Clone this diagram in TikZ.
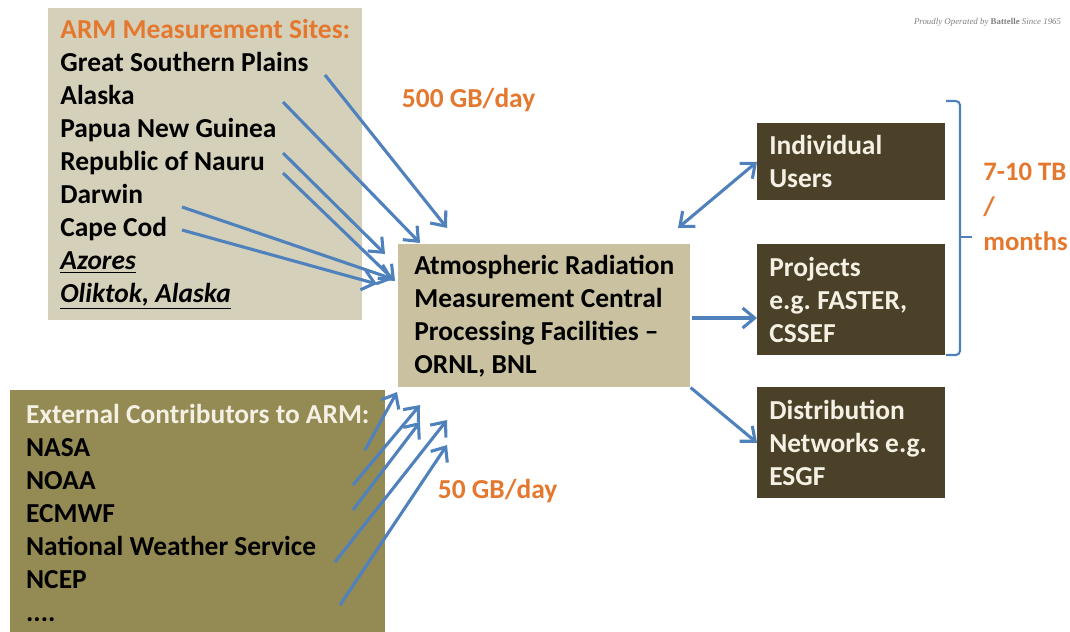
\documentclass[tikz,border=0pt]{standalone}
\usepackage{fontspec}
\setmainfont{Carlito}
\newfontfamily\logofont{Liberation Serif}
\usetikzlibrary{arrows.meta}

\definecolor{sitetan}{HTML}{D5D0BA}
\definecolor{centertan}{HTML}{C9C19F}
\definecolor{olivebox}{HTML}{948A54}
\definecolor{darkbox}{HTML}{4A4128}
\definecolor{armorange}{HTML}{E4782F}
\definecolor{armblue}{HTML}{4F81BD}
\definecolor{cream}{HTML}{F4F1E4}

\begin{document}
\begin{tikzpicture}[x=0.025cm,y=-0.025cm,
		every node/.style={font=\fontsize{19.5}{23.5}\selectfont\bfseries\frenchspacing},
		box/.style={anchor=north west, inner sep=0pt, align=left},
		userbox/.style={box, align=flush left, fill=darkbox, text=cream, inner xsep=0.3cm, text width=4.1cm, minimum width=4.7cm},
		flow/.style={draw=armblue, line width=2.2pt, -{Straight Barb[length=3mm,width=5mm,line width=2.2pt]}},
		rate/.style={anchor=west, text=armorange, align=left}]
		\useasboundingbox (0,0) rectangle (1070,631);
		% boxes
		\node [box, fill=sitetan, minimum width=7.85cm, minimum height=7.8cm] (1) at (48,8)
			{\textcolor{armorange}{ARM Measurement Sites:}\\Great Southern Plains\\Alaska\\Papua New Guinea\\Republic of Nauru\\Darwin\\Cape Cod\\\underline{\textit{Azores}}\\\underline{\textit{Oliktok, Alaska}}};
		\node [box, fill=olivebox, minimum width=9.375cm, minimum height=6.15cm] (2) at (10,390)
			{\textcolor{cream}{External Contributors to ARM:}\\NASA\\NOAA\\ECMWF\\National Weather Service\\NCEP\\....};
		\node [box, fill=centertan, minimum width=7.3cm, minimum height=3.575cm] (3) at (398,244)
			{Atmospheric Radiation\\Measurement Central\\Processing Facilities –\\ORNL, BNL};
		\node [userbox, minimum height=1.925cm] (4) at (757,123) {Individual\\Users};
		\node [userbox, minimum height=2.775cm] (5) at (757,244) {Projects\\e.g. FASTER,\\CSSEF};
		\node [userbox, minimum height=2.775cm] (6) at (757,387) {Distribution\\Networks e.g.\\ESGF};
		% rates
		\node [rate] (7) at (397,100) {500 GB/day};
		\node [rate] (8) at (433,491) {50 GB/day};
		\node [rate, inner sep=0pt, font=\fontsize{19}{25}\selectfont\bfseries] (9) at (983,207) {7-10 TB\\/\\months};
		\node [anchor=east, text=gray, font=\logofont\itshape\fontsize{6.3}{7}\selectfont] (10) at (1066,22)
			{Proudly Operated by \textup{\textbf{Battelle}} Since 1965};
		% site arrows
		\coordinate (a1) at (325,75);  \coordinate (e1) at (447,228);
		\coordinate (a2) at (283,102); \coordinate (e2) at (420,243);
		\coordinate (a3) at (283,153); \coordinate (e3) at (385,254);
		\coordinate (a4) at (283,173); \coordinate (e4) at (395,281);
		\coordinate (a5) at (182,207); \coordinate (e5) at (393,279);
		\coordinate (a6) at (182,230); \coordinate (e6) at (377,284);
		\foreach \i in {1,...,6}
			\draw [flow] (a\i) -- (e\i);
		% contributor arrows
		\coordinate (b1) at (365,450); \coordinate (f1) at (397,392);
		\coordinate (b2) at (353,485); \coordinate (f2) at (420,405);
		\coordinate (b3) at (353,510); \coordinate (f3) at (420,422);
		\coordinate (b4) at (335,562); \coordinate (f4) at (447,420);
		\coordinate (b5) at (340,605); \coordinate (f5) at (447,445);
		\foreach \i in {1,...,5}
			\draw [flow] (b\i) -- (f\i);
		% outputs
		\coordinate (c1) at (678,228);
		\coordinate (c2) at (692,318);
		\draw [flow, {Straight Barb[length=3mm,width=5mm,line width=2.2pt]}-{Straight Barb[length=3mm,width=5mm,line width=2.2pt]}] (c1) -- (4.west);
		\draw [flow] (c2) -- (5.west |- c2);
		\draw [flow] (3.south east) -- (6.west);
		% bracket
		\draw [armblue, line width=1.5pt, rounded corners=3pt] (946,101) -- (960,101) -- (960,355) -- (946,355);
		\draw [armblue, line width=1.5pt] (960,237) -- (972,237);
	\end{tikzpicture}
\end{document}
